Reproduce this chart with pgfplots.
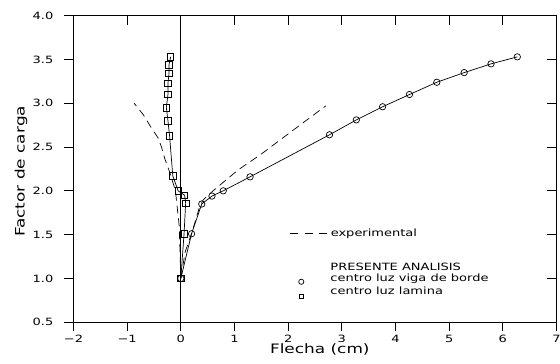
\documentclass[border=0pt]{standalone}
\usepackage{fontspec}
\setmainfont{DejaVu Sans}
\usepackage{graphicx}
\usepackage{pgfplots}
\pgfplotsset{compat=1.18}
\newcommand{\W}[1]{\scalebox{1.3}[1]{#1}}
\newcommand{\LS}[1]{\rule[-2.4pt]{0pt}{10pt}\W{#1}}
\pgfplotsset{
  mylegend/.style={
    legend style={draw=none, fill=none, anchor=north west,
      font=\fontsize{10}{12}\selectfont, row sep=2.5pt, column sep=3pt,
      inner sep=0pt, nodes={inner sep=0pt}},
    legend cell align=left,
    legend image code/.code={\draw[mark repeat=2,mark phase=2,##1] plot coordinates {(0pt,0pt) (11pt,0pt) (37pt,0pt)};},
  },
}
\begin{document}
\begin{tikzpicture}
\path[use as bounding box] (0,0) rectangle (560pt,364pt);
\begin{axis}[
  at={(73.5pt,41.8pt)}, anchor=south west,
  scale only axis, width=483pt, height=306.5pt,
  xmin=-2, xmax=7, ymin=0.5, ymax=4,
  xtick={-2,-1,0,1,2,3,4,5,6,7},
  xticklabels={\W{−2},\W{−1},\W{0},\W{1},\W{2},\W{3},\W{4},\W{5},\W{6},\W{7}},
  ytick={0.5,1,1.5,2,2.5,3,3.5,4},
  yticklabels={\W{0.5},\W{1.0},\W{1.5},\W{2.0},\W{2.5},\W{3.0},\W{3.5},\W{4.0}},
  xtick pos=left, ytick pos=left,
  tick align=outside,
  major tick length=9pt,
  axis line style={line width=0.8pt},
  every tick/.style={line width=0.8pt, black},
  tick label style={font=\fontsize{10}{12}\selectfont},
  xticklabel style={inner sep=0pt, yshift=-3.5pt},
  yticklabel style={inner sep=0pt, xshift=-11pt},
  xlabel={\W{Flecha (cm)}},
  ylabel={\W{Factor de carga}},
  label style={font=\fontsize{13}{15}\selectfont},
  xlabel style={at={(axis description cs:0.51,-0.068)}, anchor=north, inner sep=0pt},
  ylabel style={at={(axis description cs:-0.095,0.492)}, anchor=south, inner sep=0pt},
  mylegend,
  legend style={at={(0.448,0.306)}},
]
% vertical line at x = 0
\addplot[black, line width=0.7pt, forget plot] coordinates {(0,0.5) (0,4.0)};
% experimental (dashed), two branches
\addplot[black, line width=0.7pt, dash pattern=on 8pt off 5pt, forget plot] coordinates {
(0,1.0) (0.08,1.3) (0.22,1.55) (0.35,1.82) (0.42,1.9) (0.6,2.0) (1.07,2.24) (1.5,2.42) (2.0,2.65) (2.7,2.97)};
\addplot[black, line width=0.7pt, dash pattern=on 8pt off 5pt, forget plot] coordinates {
(0,1.0) (-0.03,1.6) (-0.1,2.0) (-0.2,2.2) (-0.3,2.37) (-0.36,2.5) (-0.42,2.6) (-0.55,2.72) (-0.7,2.87) (-0.87,3.0)};
% centro luz viga de borde
\addplot[black, line width=0.7pt, mark=o, mark size=3.2pt, mark options={solid, line width=0.7pt}, forget plot] coordinates {
(0,1.0) (0.2,1.51) (0.39,1.85) (0.58,1.94) (0.79,2.0) (1.29,2.16) (2.77,2.64) (3.27,2.81) (3.76,2.96) (4.26,3.10) (4.77,3.24) (5.28,3.35) (5.78,3.45) (6.27,3.53)};
% centro luz lamina
\addplot[black, line width=0.7pt, mark=square, mark size=3.2pt, mark options={solid, line width=0.7pt}, forget plot] coordinates {
(0,1.0) (0.06,1.51) (0.09,1.86) (0.07,1.95) (-0.05,2.0) (-0.15,2.17) (-0.21,2.63) (-0.24,2.80) (-0.27,2.95) (-0.24,3.10) (-0.24,3.23) (-0.22,3.34) (-0.22,3.44) (-0.19,3.53)};
\addlegendimage{black, line width=0.7pt, dash pattern=on 8pt off 6.5pt}
\addlegendentry{\LS{experimental}}
\end{axis}
\begin{axis}[
  at={(73.5pt,41.8pt)}, anchor=south west,
  scale only axis, width=483pt, height=306.5pt,
  xmin=-2, xmax=7, ymin=0.5, ymax=4,
  xtick={-1,1,2,3,4,5,6}, ytick={1,1.5,2,2.5,3,3.5},
  xticklabels={}, yticklabels={},
  xtick pos=right, ytick pos=right,
  tick align=inside, major tick length=9pt,
  axis line style={line width=0.8pt},
  every tick/.style={line width=0.8pt, black},
  mylegend,
  legend style={at={(0.448,0.195)}},
]
\addlegendimage{legend image code/.code={\path (0pt,0pt) (37pt,0pt);}}
\addlegendentry{\LS{PRESENTE ANALISIS}}
\addlegendimage{black, only marks, mark=o, mark size=2.6pt, mark options={line width=0.7pt}, yshift=-3pt}
\addlegendentry{\LS{centro luz viga de borde}}
\addlegendimage{black, only marks, mark=square, mark size=2.4pt, mark options={line width=0.7pt}, yshift=-5pt}
\addlegendentry{\LS{centro luz lamina}}
\end{axis}
\end{tikzpicture}
\end{document}
